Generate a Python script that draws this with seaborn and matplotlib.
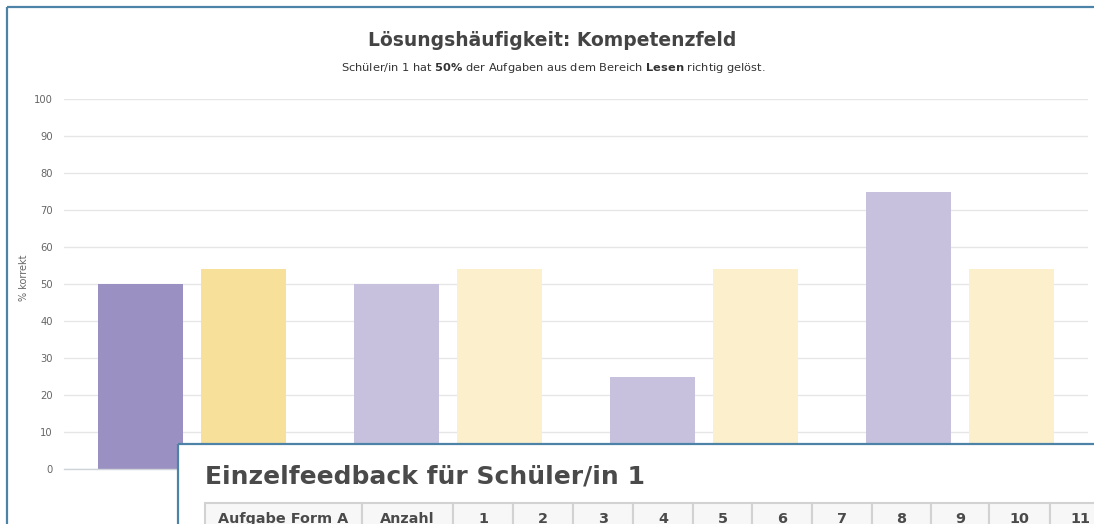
import matplotlib
matplotlib.use("Agg")
import matplotlib.pyplot as plt
import seaborn as sns
import pandas as pd
from matplotlib.patches import Rectangle

# ---- data -------------------------------------------------------------
categories = ["Lesen", "Zuhören", "Schreiben", "Sprachgebrauch"]
series_names = ["Schüler/in 1", "Klasse"]
student_values = [50, 50, 25, 75]
class_values = [54, 54, 54, 54]
y_ticks = [0, 10, 20, 30, 40, 50, 60, 70, 80, 90, 100]
highlight_index = 0

chart_title = "Lösungshäufigkeit: Kompetenzfeld"
chart_subtitle = r"Schüler/in 1 hat $\mathbf{50\%}$ der Aufgaben aus dem Bereich $\mathbf{Lesen}$ richtig gelöst."
y_label = "% korrekt"
panel_title = "Einzelfeedback für Schüler/in 1"
table_header = ["Aufgabe Form A", "Anzahl", "1", "2", "3", "4", "5", "6", "7", "8", "9", "10", "11"]

# ---- style ------------------------------------------------------------
sns.set_theme(style="white")
plt.rcParams["font.family"] = ["DejaVu Sans"]
plt.rcParams["mathtext.fontset"] = "dejavusans"
plt.rcParams["hatch.linewidth"] = 1.2

W, H = 1094, 524
student_colors = ["#9b90c2", "#c7c1de"]   # highlighted, normal
class_colors = ["#f1d67c", "#f8e8b8"]
class_hatch = ["#f6e09a", "#fbefcc"]
text_grey = "#666666"
frame_blue = "#4d83a6"

df = pd.DataFrame({
    "Kompetenzfeld": categories * 2,
    "Reihe": [series_names[0]] * len(categories) + [series_names[1]] * len(categories),
    "Wert": student_values + class_values,
})

fig = plt.figure(figsize=(W / 100, H / 100), dpi=100)
fig.patch.set_facecolor("white")

# plot area in pixel terms: x 64..1088, y 99 (100 %) .. 469 (0 %)
ax = fig.add_axes([64 / W, 1 - 469 / H, 1024 / W, 370 / H])
sns.barplot(data=df, x="Kompetenzfeld", y="Wert", hue="Reihe",
            order=categories, hue_order=series_names,
            width=0.8, gap=0.17, saturation=1, legend=False, ax=ax, zorder=3)

for i, bar in enumerate(ax.containers[0]):
    bar.set_facecolor(student_colors[0 if i == highlight_index else 1])
    bar.set_edgecolor("none")
    bar.set_linewidth(0)
for i, bar in enumerate(ax.containers[1]):
    k = 0 if i == highlight_index else 1
    bar.set_facecolor(class_colors[k])
    bar.set_edgecolor(class_hatch[k])
    bar.set_hatch("\\" * 24)
    bar.set_linewidth(0)

ax.set_xlim(-0.5, len(categories) - 0.5)
ax.set_ylim(0, 100)
ax.set_yticks(y_ticks)
ax.yaxis.grid(True, color="#e6e6e6", linewidth=1.0, zorder=0)
ax.set_axisbelow(True)
ax.set_xlabel("")
ax.set_ylabel("")
for s in ["top", "right", "left"]:
    ax.spines[s].set_visible(False)
ax.spines["bottom"].set_color("#cfd3da")
ax.spines["bottom"].set_linewidth(1.0)
ax.spines["bottom"].set_zorder(4)

ax.tick_params(axis="y", length=0, pad=8, labelsize=7.2, labelcolor=text_grey)
# category labels sit underneath the feedback panel
ax.tick_params(axis="x", which="major", length=0, labelbottom=False)
ax.set_xticks([i - 0.5 for i in range(len(categories) + 1)], minor=True)
ax.tick_params(axis="x", which="minor", length=6, width=1.0, color="#cfd3da")

fig.text(24 / W, 1 - 278 / H, y_label, rotation=90, ha="center", va="center",
         fontsize=7, color=text_grey)
fig.text(552 / W, 1 - 40 / H, chart_title, ha="center", va="center",
         fontsize=13.5, fontweight="bold", color="#444444")
fig.text(553 / W, 1 - 68 / H, chart_subtitle, ha="center", va="center",
         fontsize=8.2, color="#333333")

# ---- page frame and feedback panel (pixel coordinates) ----------------
oax = fig.add_axes([0, 0, 1, 1], zorder=10)
oax.set_xlim(0, W)
oax.set_ylim(H, 0)
oax.axis("off")
oax.patch.set_alpha(0)

oax.plot([7, W + 5], [7, 7], color=frame_blue, lw=1.6, solid_capstyle="butt")
oax.plot([7, 7], [7, H + 5], color=frame_blue, lw=1.6, solid_capstyle="butt")

oax.add_patch(Rectangle((178, 444), W, 200, facecolor="white", edgecolor="none"))
oax.plot([178, W + 5], [444, 444], color=frame_blue, lw=1.6, solid_capstyle="butt")
oax.plot([178, 178], [444, H + 5], color=frame_blue, lw=1.6, solid_capstyle="butt")

oax.text(205, 477, panel_title, ha="left", va="center", fontsize=18,
         fontweight="bold", color="#4a4a4a")

col_edges = [205, 362, 453, 513, 573, 633, 693, 752, 812, 872, 931, 989, 1050, 1110]
for j, label in enumerate(table_header):
    x0, x1 = col_edges[j], col_edges[j + 1]
    oax.add_patch(Rectangle((x0, 503), x1 - x0, 40, facecolor="#f7f7f7",
                            edgecolor="#d2d2d2", linewidth=1.5))
    oax.text((x0 + x1) / 2, 519, label, ha="center", va="center", fontsize=10.4,
             fontweight="bold", color="#4a4a4a")

fig.savefig("out.png", dpi=100, facecolor="white")
